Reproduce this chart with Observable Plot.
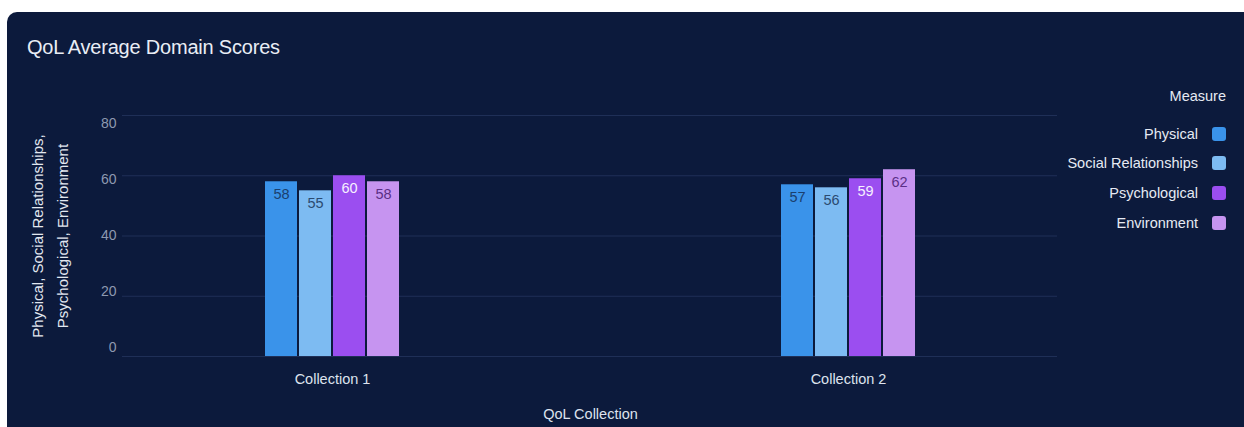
<!DOCTYPE html>
<html>
<head>
<meta charset="utf-8">
<script src="https://cdn.jsdelivr.net/npm/d3@7"></script>
<script src="https://cdn.jsdelivr.net/npm/@observablehq/plot@0.6"></script>
<style>
  html, body { margin: 0; padding: 0; background: #ffffff; }
  body { width: 1244px; height: 427px; overflow: hidden; position: relative; font-family: "Liberation Sans", Arial, sans-serif; }
  #panel { position: absolute; left: 7px; top: 12px; width: 1237px; height: 415px; background: #0c1a3c; border-top-left-radius: 10px; overflow: hidden; }
  #panel svg { position: absolute; left: 0; top: 0; }
  #title { position: absolute; left: 20px; top: 24px; font-size: 20px; color: #e9edf5; letter-spacing: -0.2px; }
  #ylabel { position: absolute; left: 43px; top: 224px; transform: translate(-50%, -50%) rotate(-90deg); text-align: center; white-space: nowrap; font-size: 15px; line-height: 25px; color: #e2e7f0; }
  #legend { position: absolute; right: 18px; top: 74px; color: #e6eaf3; font-size: 14.5px; }
  #legend .ttl { text-align: right; height: 20px; line-height: 20px; margin-bottom: 13px; }
  #legend .row { display: flex; justify-content: flex-end; align-items: center; height: 29.6px; }
  #legend .sw { width: 14px; height: 14px; border-radius: 3px; margin-left: 14px; }
</style>
</head>
<body>
<div id="panel">
  <div id="grid"></div>
  <div id="axis"></div>
  <div id="bars"></div>
  <div id="title"></div>
  <div id="ylabel"></div>
  <div id="legend"></div>
</div>
<script>
const title = "QoL Average Domain Scores";
const xTitle = "QoL Collection";
const yTitleLines = ["Physical, Social Relationships,", "Psychological, Environment"];
const legendTitle = "Measure";
const collections = ["Collection 1", "Collection 2"];
const measures = ["Physical", "Social Relationships", "Psychological", "Environment"];
const physical = [58, 57];
const social = [55, 56];
const psychological = [60, 59];
const environment = [58, 62];
const colors = ["#3a93ea", "#7dbbf2", "#9b4ef0", "#c694f0"];
const labelColors = ["#1b3f6e", "#2b4a70", "#f6f0ff", "#5b2f86"];
const yTicks = [0, 20, 40, 60, 80];

const series = [physical, social, psychological, environment];
const data = [];
collections.forEach((c, ci) => {
  measures.forEach((m, mi) => {
    data.push({collection: c, measure: m, value: series[mi][ci], fill: colors[mi], labelFill: labelColors[mi]});
  });
});

const W = 1237, H = 415;
const margins = {marginTop: 103, marginBottom: 71, marginLeft: 115, marginRight: 187};
const font = "'Liberation Sans', Arial, sans-serif";

// gridlines
const gridPlot = Plot.plot({
  width: W, height: H, ...margins,
  style: {background: "transparent", fontFamily: font},
  x: {domain: [0, 1], axis: null},
  y: {domain: [0, 80], axis: null},
  marks: [Plot.ruleY(yTicks, {stroke: "#1f2f57", strokeWidth: 1})]
});
document.getElementById("grid").appendChild(gridPlot);

// y tick labels (the original spaces them slightly tighter than the gridlines)
const axisPlot = Plot.plot({
  width: W, height: H, marginTop: 111, marginBottom: 80, marginLeft: 115, marginRight: 187,
  style: {background: "transparent", color: "#8e99b0", fontSize: "14px", fontFamily: font},
  x: {domain: [0, 1], axis: null},
  y: {domain: [0, 80], ticks: yTicks, tickSize: 0, tickPadding: 6, label: null},
  marks: []
});
document.getElementById("axis").appendChild(axisPlot);

const barPlot = Plot.plot({
  width: W, height: H, ...margins,
  style: {background: "transparent", color: "#dde3ee", fontSize: "14.5px", fontFamily: font},
  facet: {data: data, x: "collection"},
  fx: {domain: collections, paddingInner: 0.5, paddingOuter: 0.156, label: xTitle, tickSize: 0, tickPadding: 17, labelAnchor: "center", labelOffset: 62},
  x: {domain: measures, paddingInner: 0.06, paddingOuter: 1.74, axis: null},
  y: {domain: [0, 80], axis: null},
  marks: [
    Plot.barY(data, {x: "measure", y: "value", fill: "fill"}),
    Plot.text(data, {x: "measure", y: "value", text: d => String(d.value), fill: "labelFill", dy: 13, fontSize: 14.5})
  ]
});
document.getElementById("bars").appendChild(barPlot);

document.getElementById("title").textContent = title;
document.getElementById("ylabel").innerHTML = yTitleLines.map(l => `<div>${l}</div>`).join("");
const legend = document.getElementById("legend");
legend.innerHTML = `<div class="ttl">${legendTitle}</div>` +
  measures.map((m, i) => `<div class="row"><span>${m}</span><span class="sw" style="background:${colors[i]}"></span></div>`).join("");
</script>
</body>
</html>
